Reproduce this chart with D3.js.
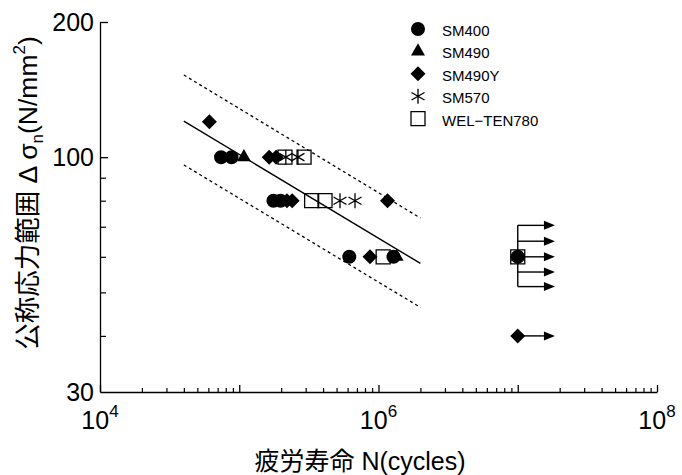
<!DOCTYPE html>
<html>
<head>
<meta charset="utf-8">
<script src="https://cdn.jsdelivr.net/npm/d3@7"></script>
<style>
  body { margin: 0; background: #fff; }
  text { font-family: "Liberation Sans", Arial, "Noto Sans CJK JP", sans-serif; fill: #000; }
</style>
</head>
<body>
<svg id="chart" width="682" height="475"></svg>
<script>
// Fatigue test results: [cycles N, stress range (N/mm2)]
var sm400 = [[7.4e4, 100], [8.8e4, 100], [1.76e5, 80], [1.98e5, 80], [6.17e5, 60], [1.28e6, 60], [1e7, 60]];
var sm490 = [[1.08e5, 100], [1.35e6, 60], [1e7, 60]];
var sm490y = [[6.1e4, 120], [1.64e5, 100], [1.84e5, 100], [2.2e5, 80], [2.4e5, 80], [1.16e6, 80], [8.69e5, 60], [1e7, 60], [1e7, 40]];
var sm570 = [[2.16e5, 100], [2.64e5, 100], [5.29e5, 80], [6.78e5, 80]];
var weltenData = [[2.13e5, 100], [2.92e5, 100], [3.31e5, 80], [4.13e5, 80], [1.08e6, 60], [1e7, 60]];

// Run-outs (no failure) at 1e7 cycles
var runoutStart = 1e7;
var runoutEnd = 1.85e7;
var runoutGroup = [70.5, 65, 60, 55.5, 51.5];
var runoutSingle = [40];

// Mean S-N curve and the two bounds
var meanLine = [[4e4, 120.3], [2e6, 58]];
var upperLine = [[4e4, 152.4], [2e6, 73.2]];
var lowerLine = [[4e4, 96.1], [2e6, 46.3]];

// Axis ticks
var xMajor = [1e4, 1e5, 1e6, 1e7, 1e8];
var xLabels = [4, 6, 8];
var yMajor = [100, 200];
var yMinor = [40, 50, 60, 70, 80, 90];
var yLabels = [200, 100, 30];

var legendNames = ["SM400", "SM490", "SM490Y", "SM570", "WEL\u2212TEN780"];

var svg = d3.select("#chart");

var x = d3.scaleLog().domain([1e4, 1e8]).range([100, 657]);
var y = d3.scaleLog().domain([30, 200]).range([392, 22]);

// Minor x ticks: 2..9 x 10^k
var xMinor = [];
[1e4, 1e5, 1e6, 1e7].forEach(function (d) {
    for (var i = 2; i <= 9; i++) xMinor.push(d * i);
});

// Axes (ticks point inward)
svg.append("g")
    .attr("transform", "translate(0," + y.range()[0] + ")")
    .call(d3.axisBottom(x).tickValues(xMajor).tickSize(-7).tickSizeOuter(0).tickFormat(""))
    .call(function (g) { g.selectAll("line, path").attr("stroke", "#000").attr("stroke-width", 1.3); });

svg.append("g")
    .attr("transform", "translate(0," + y.range()[0] + ")")
    .call(d3.axisBottom(x).tickValues(xMinor).tickSize(-4).tickFormat(""))
    .call(function (g) { g.select(".domain").remove(); g.selectAll("line").attr("stroke", "#000").attr("stroke-width", 1.2); });

svg.append("g")
    .attr("transform", "translate(" + x.range()[0] + ",0)")
    .call(d3.axisLeft(y).tickValues(yMajor).tickSize(-8).tickSizeOuter(0).tickFormat(""))
    .call(function (g) { g.selectAll("line, path").attr("stroke", "#000").attr("stroke-width", 1.3); });

svg.append("g")
    .attr("transform", "translate(" + x.range()[0] + ",0)")
    .call(d3.axisLeft(y).tickValues(yMinor).tickSize(-6).tickFormat(""))
    .call(function (g) { g.select(".domain").remove(); g.selectAll("line").attr("stroke", "#000").attr("stroke-width", 1.2); });

// Tick labels
svg.selectAll(".ylab").data(yLabels).enter().append("text")
    .attr("class", "ylab")
    .attr("x", 94)
    .attr("y", function (d) { return y(d) + 9; })
    .attr("text-anchor", "end")
    .attr("font-size", 25)
    .text(function (d) { return d; });

var xl = svg.selectAll(".xlab").data(xLabels).enter().append("text")
    .attr("class", "xlab")
    .attr("x", function (d) { return x(Math.pow(10, d)); })
    .attr("y", 429)
    .attr("text-anchor", "middle")
    .attr("font-size", 25);
xl.append("tspan").text("10");
xl.append("tspan").attr("dy", -12).attr("font-size", 17).text(function (d) { return d; });

// Axis titles
svg.append("text")
    .attr("x", 360)
    .attr("y", 470)
    .attr("text-anchor", "middle")
    .attr("font-size", 25)
    .text("疲労寿命 N(cycles)");

var yt = svg.append("text")
    .attr("transform", "translate(37,193) rotate(-90)")
    .attr("text-anchor", "middle")
    .attr("font-size", 26.5);
yt.append("tspan").text("公称応力範囲 Δ σ");
yt.append("tspan").attr("dy", 6).attr("font-size", 17).text("n");
yt.append("tspan").attr("dy", -6).text("(N/mm");
yt.append("tspan").attr("dy", -12).attr("font-size", 17).text("2");
yt.append("tspan").attr("dy", 12).text(")");

// S-N lines
var line = d3.line().x(function (d) { return x(d[0]); }).y(function (d) { return y(d[1]); });

svg.append("path").datum(meanLine).attr("d", line)
    .attr("fill", "none").attr("stroke", "#000").attr("stroke-width", 1.4);
[upperLine, lowerLine].forEach(function (l) {
    svg.append("path").datum(l).attr("d", line)
        .attr("fill", "none").attr("stroke", "#000").attr("stroke-width", 1.3)
        .attr("stroke-dasharray", "3,3");
});

// Marker shapes
var shapes = {
    circle: { d: d3.symbol(d3.symbolCircle, 154)(), fill: "#000", stroke: "none" },
    triangle: { d: d3.symbol(d3.symbolTriangle, 85)(), fill: "#000", stroke: "none" },
    diamond: { d: "M0,-7.5L7.5,0L0,7.5L-7.5,0Z", fill: "#000", stroke: "none" },
    star: { d: "M0,-7.5V7.5M-6.5,-3.75L6.5,3.75M-6.5,3.75L6.5,-3.75", fill: "none", stroke: "#000" },
    box: { d: "M-7,-7H7V7H-7Z", fill: "none", stroke: "#000" }
};
var shapeOrder = ["circle", "triangle", "diamond", "star", "box"];

function drawMarkers(data, shape) {
    var s = shapes[shape];
    svg.append("g").selectAll("path").data(data).enter().append("path")
        .attr("transform", function (d) { return "translate(" + x(d[0]) + "," + y(d[1]) + ")"; })
        .attr("d", s.d)
        .attr("fill", s.fill)
        .attr("stroke", s.stroke)
        .attr("stroke-width", 1.3);
}

// Run-out arrows
var arrowHead = "M0,0L-11,-4.5L-11,4.5Z";
function drawArrows(levels) {
    var g = svg.append("g");
    g.selectAll("line").data(levels).enter().append("line")
        .attr("x1", x(runoutStart)).attr("x2", x(runoutEnd) - 8)
        .attr("y1", function (d) { return y(d); })
        .attr("y2", function (d) { return y(d); })
        .attr("stroke", "#000").attr("stroke-width", 1.4);
    g.selectAll("path").data(levels).enter().append("path")
        .attr("transform", function (d) { return "translate(" + x(runoutEnd) + "," + y(d) + ")"; })
        .attr("d", arrowHead).attr("fill", "#000");
}
drawArrows(runoutGroup);
drawArrows(runoutSingle);
svg.append("line")
    .attr("x1", x(runoutStart)).attr("x2", x(runoutStart))
    .attr("y1", y(d3.max(runoutGroup))).attr("y2", y(d3.min(runoutGroup)))
    .attr("stroke", "#000").attr("stroke-width", 1.4);

drawMarkers(weltenData, "box");
drawMarkers(sm570, "star");
drawMarkers(sm490y, "diamond");
drawMarkers(sm400, "circle");
drawMarkers(sm490, "triangle");

// Legend
var legend = svg.append("g").selectAll("g").data(legendNames).enter().append("g")
    .attr("transform", function (d, i) { return "translate(418," + (29 + i * 22.4) + ")"; });
legend.append("path")
    .attr("d", function (d, i) { return shapes[shapeOrder[i]].d; })
    .attr("fill", function (d, i) { return shapes[shapeOrder[i]].fill; })
    .attr("stroke", function (d, i) { return shapes[shapeOrder[i]].stroke; })
    .attr("stroke-width", 1.3);
legend.append("text")
    .attr("x", 24)
    .attr("y", 7)
    .attr("font-size", 15)
    .text(function (d) { return d; });
</script>
</body>
</html>
